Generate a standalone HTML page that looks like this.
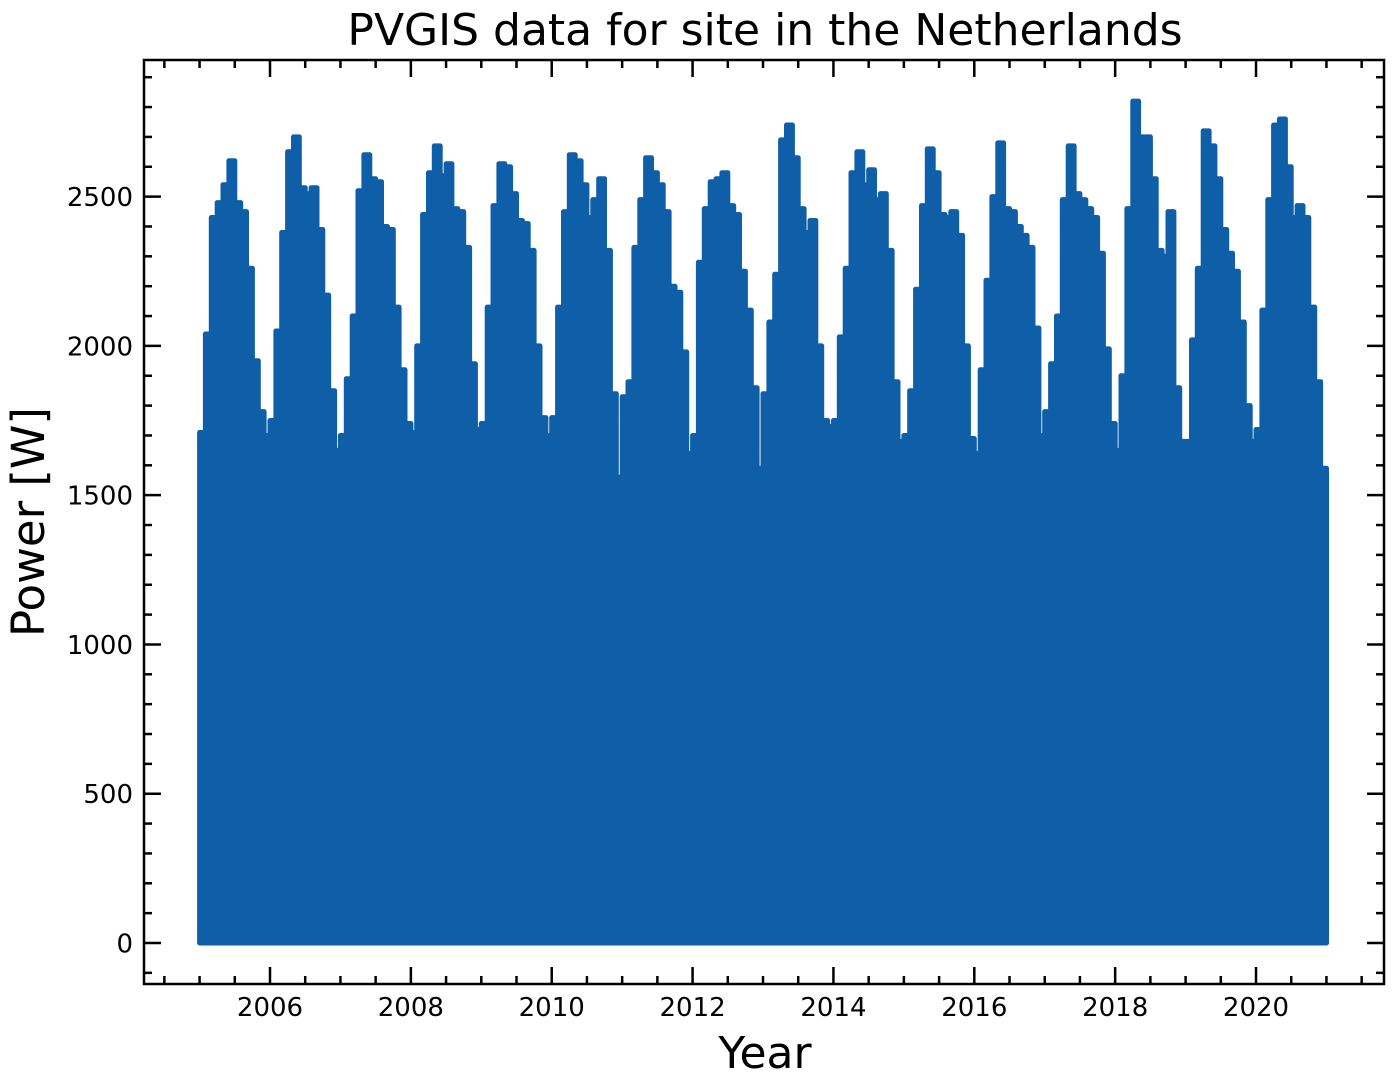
<!DOCTYPE html>
<html><head><meta charset="utf-8"><style>
body{margin:0;background:#fff}
svg text{font-family:"DejaVu Sans","Liberation Sans",sans-serif;fill:#000}
</style></head><body>
<svg id="chart" width="1394" height="1086" xmlns="http://www.w3.org/2000/svg">
<text x="765" y="45" font-size="44" text-anchor="middle">PVGIS data for site in the Netherlands</text>
<text x="765" y="1068" font-size="44" text-anchor="middle">Year</text>
<text transform="translate(44,522) rotate(-90)" font-size="45" text-anchor="middle">Power [W]</text>
<g id="series"></g>
<g id="axes"></g>
</svg>
<script>
const startYear = 2005;
const monthlyPeaks = [
[1710,2040,2430,2480,2540,2620,2480,2450,2260,1950,1780,1700],
[1750,2050,2380,2650,2700,2530,2510,2530,2390,2170,1850,1650],
[1700,1890,2100,2520,2640,2560,2550,2400,2390,2130,1920,1740],
[1710,2000,2440,2580,2670,2570,2610,2460,2450,2330,1940,1720],
[1740,2130,2470,2610,2600,2510,2420,2410,2320,2000,1760,1700],
[1760,2130,2450,2640,2620,2540,2430,2490,2560,2320,1840,1560],
[1830,1880,2330,2490,2630,2580,2540,2450,2200,2180,1980,1640],
[1700,2280,2460,2550,2560,2580,2470,2440,2250,2120,1860,1590],
[1840,2080,2240,2690,2740,2630,2460,2380,2420,2000,1750,1730],
[1750,2030,2260,2580,2650,2540,2590,2490,2510,2320,1880,1680],
[1700,1850,2190,2470,2660,2580,2440,2430,2450,2370,2000,1690],
[1640,1920,2220,2500,2680,2460,2450,2400,2370,2330,2060,1700],
[1780,1940,2100,2490,2670,2510,2490,2460,2430,2310,1990,1740],
[1650,1900,2460,2820,2700,2700,2560,2320,2300,2450,1860,1680],
[1680,2020,2260,2720,2670,2560,2390,2310,2250,2080,1800,1680],
[1720,2120,2490,2740,2760,2600,2430,2470,2430,2130,1880,1590]
];
const xTicks = [2006,2008,2010,2012,2014,2016,2018,2020];
const yTicks = [0,500,1000,1500,2000,2500];

const L=144,R=1384,T=60,B=984;
const X = yr => 270 + (yr-2006)*70.43;
const Y = v => 943 - v*0.29855;
const NS="http://www.w3.org/2000/svg";
const mk=(t,a,p)=>{const e=document.createElementNS(NS,t);for(const k in a)e.setAttribute(k,a[k]);p.appendChild(e);return e;};

const series=document.getElementById('series');
let pts=[[X(startYear),Y(0)]];
monthlyPeaks.forEach((yr,i)=>yr.forEach((v,m)=>{
  const x0=X(startYear+i+m/12), x1=X(startYear+i+(m+1)/12);
  pts.push([x0,Y(v)]);pts.push([x1,Y(v)]);
}));
const endX=X(startYear+monthlyPeaks.length);
pts.push([endX,Y(0)]);
const poly=mk('polygon',{points:pts.map(p=>p[0].toFixed(1)+','+p[1].toFixed(1)).join(' '),fill:'#0f5ea8',stroke:'#0f5ea8','stroke-width':5,'stroke-linejoin':'round'},series);



const axes=document.getElementById('axes');
const frame=mk('rect',{x:L,y:T,width:R-L,height:B-T,fill:'none',stroke:'#000','stroke-width':2.5},axes);


for(let yr=2004.5; yr<=2021.5; yr+=0.5){
  const x=X(yr); if(x<L||x>R) continue;
  const major = Number.isInteger(yr) && yr%2===0;
  const len = major?17:8;
  mk('line',{x1:x,y1:B,x2:x,y2:B-len,stroke:'#000','stroke-width':2.5},axes);
  mk('line',{x1:x,y1:T,x2:x,y2:T+len,stroke:'#000','stroke-width':2.5},axes);
}
xTicks.forEach(yr=>{
  const t=mk('text',{x:X(yr),y:1016,'font-size':26,'text-anchor':'middle'},axes);
  t.textContent=yr;
  
  
});
for(let v=-100; v<=2900; v+=100){
  const y=Y(v); if(y<T||y>B) continue;
  const major=v%500===0;
  const len=major?17:8;
  mk('line',{x1:L,y1:y,x2:L+len,y2:y,stroke:'#000','stroke-width':2.5},axes);
  mk('line',{x1:R,y1:y,x2:R-len,y2:y,stroke:'#000','stroke-width':2.5},axes);
}
yTicks.forEach(v=>{
  const t=mk('text',{x:133,y:Y(v)+9.5,'font-size':26,'text-anchor':'end'},axes);
  t.textContent=v;
  
  
});
</script>
</body></html>
